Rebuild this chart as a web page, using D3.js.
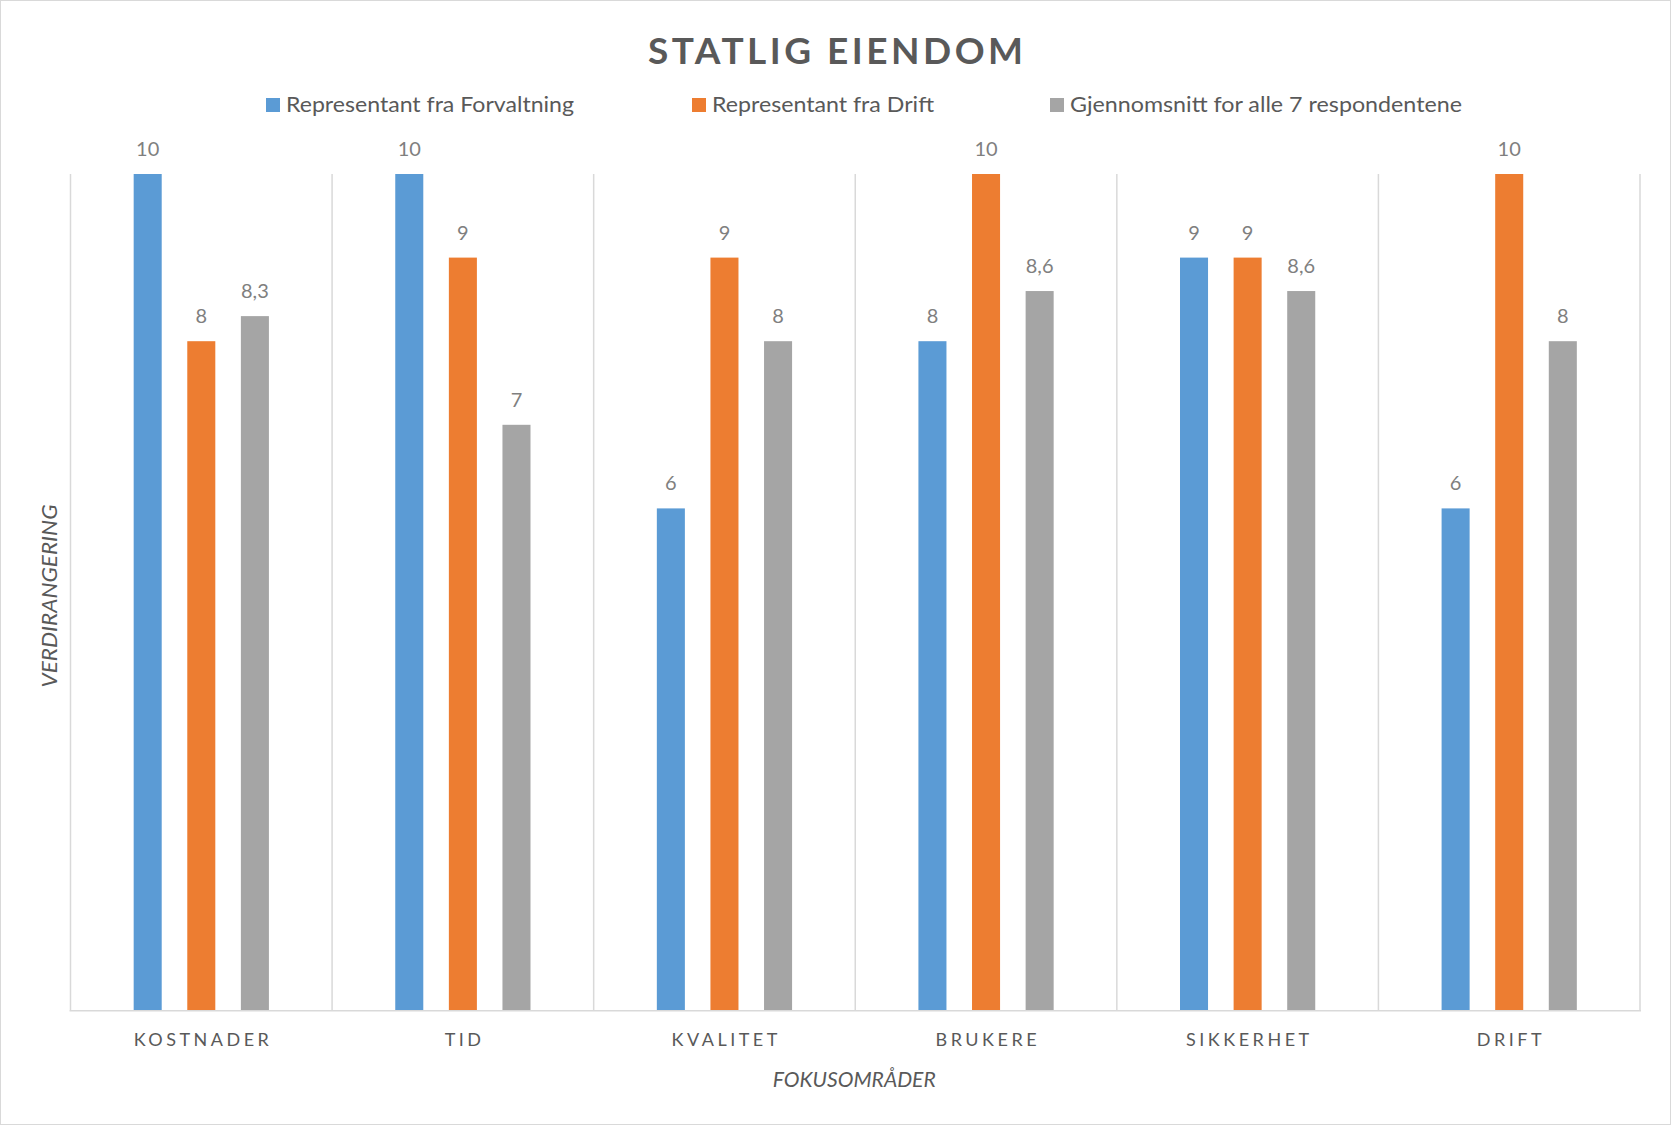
<!DOCTYPE html>
<html>
<head>
<meta charset="utf-8">
<script src="https://cdn.jsdelivr.net/npm/d3@7"></script>
<style>
  html, body { margin: 0; padding: 0; background: #fff; }
  svg { display: block; }
  text { font-family: Lato, "Open Sans", sans-serif; }
</style>
</head>
<body>
<svg id="chart" width="1671" height="1125"></svg>
<script>
// ---- data ----
const categories = ["KOSTNADER", "TID", "KVALITET", "BRUKERE", "SIKKERHET", "DRIFT"];
const seriesNames = ["Representant fra Forvaltning", "Representant fra Drift", "Gjennomsnitt for alle 7 respondentene"];
const forvaltning = [10, 10, 6, 8, 9, 6];
const drift = [8, 9, 9, 10, 9, 10];
const gjennomsnitt = [8.3, 7, 8, 8.6, 8.6, 8];
const colors = ["#5b9bd5", "#ed7d31", "#a5a5a5"];
const title = "STATLIG EIENDOM";
const xTitle = "FOKUSOMRÅDER";
const yTitle = "VERDIRANGERING";

const seriesValues = [forvaltning, drift, gjennomsnitt];

const W = 1671, H = 1125;
const plot = { left: 70.5, right: 1640, top: 174, bottom: 1010 };

const svg = d3.select("#chart");

// outer border
svg.append("rect").attr("x", 0.5).attr("y", 0.5).attr("width", W - 1).attr("height", H - 1)
  .attr("fill", "#fff").attr("stroke", "#d9d9d9").attr("stroke-width", 1);

const x0 = d3.scaleBand().domain(categories).range([plot.left, plot.right]).padding(0);
const x1 = d3.scaleBand().domain(d3.range(seriesNames.length))
  .range([x0.bandwidth() * 0.2415, x0.bandwidth() * 0.7585]).paddingInner(0.477).paddingOuter(0);
const y = d3.scaleLinear().domain([0, 10]).range([plot.bottom, plot.top]);

// separators (category boundaries)
const bounds = categories.map(c => x0(c)).concat([plot.right]);
svg.append("g").selectAll("line").data(bounds).join("line")
  .attr("x1", d => d).attr("x2", d => d)
  .attr("y1", plot.top).attr("y2", plot.bottom)
  .attr("stroke", "#d9d9d9").attr("stroke-width", 1.5);

// bars
const data = [];
categories.forEach((c, i) => {
  seriesValues.forEach((vals, s) => data.push({ c, s, v: vals[i] }));
});

svg.append("g").selectAll("rect").data(data).join("rect")
  .attr("x", d => x0(d.c) + x1(d.s))
  .attr("y", d => y(d.v))
  .attr("width", x1.bandwidth())
  .attr("height", d => y(0) - y(d.v))
  .attr("fill", d => colors[d.s]);

// value labels
const fmt = v => String(v).replace(".", ",");
svg.append("g").selectAll("text").data(data).join("text")
  .attr("x", d => x0(d.c) + x1(d.s) + x1.bandwidth() / 2)
  .attr("y", d => y(d.v) - 18)
  .attr("text-anchor", "middle")
  .attr("font-size", 20)
  .attr("fill", "#7f7f7f")
  .text(d => fmt(d.v));

// bottom axis line
svg.append("line")
  .attr("x1", plot.left - 1).attr("x2", plot.right + 1)
  .attr("y1", plot.bottom + 0.75).attr("y2", plot.bottom + 0.75)
  .attr("stroke", "#d9d9d9").attr("stroke-width", 1.5);

// category labels
const ls = 3.5;
svg.append("g").selectAll("text").data(categories).join("text")
  .attr("x", d => x0(d) + x0.bandwidth() / 2 + ls / 2)
  .attr("y", 1046)
  .attr("text-anchor", "middle")
  .attr("font-size", 18)
  .attr("letter-spacing", ls + "px")
  .attr("fill", "#595959")
  .text(d => d);

// axis titles
svg.append("text")
  .attr("x", (plot.left + plot.right) / 2 - 1).attr("y", 1087)
  .attr("text-anchor", "middle")
  .attr("font-size", 21).attr("font-style", "italic")
  .attr("fill", "#595959")
  .attr("textLength", 163).attr("lengthAdjust", "spacingAndGlyphs")
  .text(xTitle);

svg.append("text")
  .attr("transform", `translate(57,${(plot.top + plot.bottom) / 2 + 4}) rotate(-90)`)
  .attr("text-anchor", "middle")
  .attr("font-size", 21).attr("font-style", "italic")
  .attr("fill", "#595959")
  .attr("textLength", 183).attr("lengthAdjust", "spacingAndGlyphs")
  .text(yTitle);

// title
svg.append("text")
  .attr("x", W / 2).attr("y", 64)
  .attr("text-anchor", "middle")
  .attr("font-size", 37).attr("font-weight", "bold")
  .attr("fill", "#595959")
  .attr("textLength", 375).attr("lengthAdjust", "spacing")
  .text(title);

// legend
const legendX = [266, 692, 1050];
const legendW = [288, 222, 392];
const lg = svg.append("g").selectAll("g").data(seriesNames).join("g");
lg.append("rect")
  .attr("x", (d, i) => legendX[i]).attr("y", 98)
  .attr("width", 14).attr("height", 14)
  .attr("fill", (d, i) => colors[i]);
lg.append("text")
  .attr("x", (d, i) => legendX[i] + 20).attr("y", 112)
  .attr("font-size", 21)
  .attr("fill", "#595959")
  .attr("textLength", (d, i) => legendW[i]).attr("lengthAdjust", "spacingAndGlyphs")
  .text(d => d);
</script>
</body>
</html>
